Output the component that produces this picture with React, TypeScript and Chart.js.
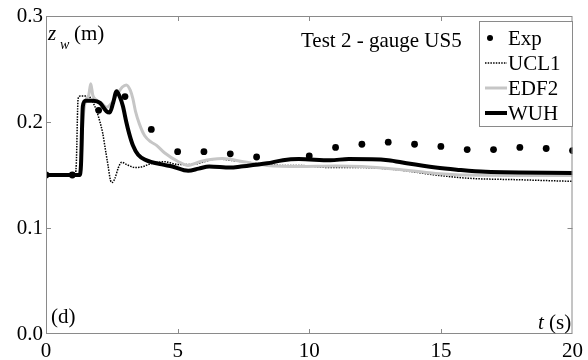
import React, { useEffect, useRef } from "react";
import { Chart, registerables } from "chart.js";

Chart.register(...registerables);

// ---- data ----
const xTickValues = [0, 5, 10, 15, 20];
const yTickValues = [0, 0.1, 0.2, 0.3];

const expT = [0, 1, 2, 3, 4, 5, 6, 7, 8, 10, 11, 12, 13, 14, 15, 16, 17, 18, 19, 20];
const expZ = [0.150, 0.150, 0.211, 0.224, 0.193, 0.172, 0.172, 0.170, 0.167, 0.168, 0.176, 0.179, 0.181, 0.179, 0.177, 0.174, 0.174, 0.176, 0.175, 0.173];

const ucl1T = [0, 1.10, 1.15, 1.22, 1.30, 1.60, 1.75, 1.90, 2.05, 2.15, 2.25, 2.35, 2.45, 2.52, 2.62, 2.75, 2.88, 3.05, 3.40, 3.70, 3.90, 4.50, 5.00, 5.50, 6.50, 7.30, 8.00, 9.00, 9.60, 10.8, 12.0, 13.3, 14.8, 16.0, 18.0, 20.0];
const ucl1Z = [0.150, 0.150, 0.160, 0.222, 0.2245, 0.2245, 0.220, 0.212, 0.200, 0.190, 0.175, 0.160, 0.145, 0.143, 0.147, 0.157, 0.162, 0.160, 0.157, 0.158, 0.160, 0.1625, 0.160, 0.160, 0.165, 0.163, 0.161, 0.159, 0.159, 0.157, 0.157, 0.155, 0.150, 0.147, 0.1455, 0.144];

const edf2T = [0, 1.30, 1.40, 1.50, 1.62, 1.70, 1.78, 1.90, 2.10, 2.30, 2.50, 2.70, 2.90, 3.05, 3.20, 3.30, 3.40, 3.55, 3.75, 4.00, 4.20, 4.50, 5.00, 5.40, 5.90, 6.70, 7.50, 8.40, 9.60, 11.0, 12.0, 13.3, 14.8, 16.0, 20.0];
const edf2Z = [0.150, 0.150, 0.200, 0.220, 0.225, 0.236, 0.225, 0.221, 0.218, 0.214, 0.218, 0.226, 0.233, 0.235, 0.230, 0.222, 0.210, 0.198, 0.187, 0.181, 0.178, 0.171, 0.163, 0.159, 0.163, 0.1655, 0.1625, 0.159, 0.158, 0.1585, 0.158, 0.1555, 0.1515, 0.150, 0.1495];

const wuhT = [0, 1.28, 1.33, 1.40, 1.50, 1.80, 2.05, 2.30, 2.42, 2.55, 2.68, 2.80, 2.92, 3.05, 3.16, 3.30, 3.50, 3.80, 4.40, 4.80, 5.40, 5.80, 6.20, 7.00, 7.40, 8.40, 9.00, 9.60, 10.8, 11.5, 13.0, 13.7, 14.8, 15.6, 16.7, 20.0];
const wuhZ = [0.150, 0.150, 0.160, 0.215, 0.220, 0.220, 0.218, 0.210, 0.209, 0.218, 0.229, 0.224, 0.215, 0.200, 0.189, 0.178, 0.169, 0.164, 0.160, 0.158, 0.154, 0.156, 0.158, 0.157, 0.158, 0.161, 0.164, 0.165, 0.164, 0.165, 0.164, 0.161, 0.157, 0.155, 0.153, 0.152];

const seriesNames = ["Exp", "UCL1", "EDF2", "WUH"];
const titleText = "Test 2 - gauge US5";

// ---- style ----
const FONT = "'Liberation Serif', 'Times New Roman', serif";
const FRAME = "#8a8a8a";
const GRAY = "#c6c6c6";

const pts = (t: number[], z: number[]) => t.map((v, i) => ({ x: v, y: z[i] }));

const decor = {
  id: "decor",
  afterDraw(chart: any) {
    const { ctx, chartArea: a, scales } = chart;
    const x = scales.x;
    const y = scales.y;
    ctx.save();
    // frame
    ctx.strokeStyle = FRAME;
    ctx.lineWidth = 1;
    ctx.strokeRect(a.left + 0.5, a.top + 0.5, a.right - a.left - 1, a.bottom - a.top - 1);
    const seg = (x1: number, y1: number, x2: number, y2: number) => {
      ctx.beginPath();
      ctx.moveTo(x1, y1);
      ctx.lineTo(x2, y2);
      ctx.stroke();
    };
    // inward ticks
    xTickValues.slice(1, -1).forEach((v) => {
      const px = Math.round(x.getPixelForValue(v)) + 0.5;
      seg(px, a.bottom, px, a.bottom - 5);
      seg(px, a.top, px, a.top + 5);
    });
    yTickValues.slice(1, -1).forEach((v) => {
      const py = Math.round(y.getPixelForValue(v)) + 0.5;
      seg(a.left, py, a.left + 5, py);
      seg(a.right, py, a.right - 5, py);
    });

    // texts
    ctx.fillStyle = "#000";
    ctx.textBaseline = "middle";
    ctx.textAlign = "left";
    ctx.font = `21px ${FONT}`;
    ctx.fillText(titleText, 301, 41);
    ctx.font = `italic 21px ${FONT}`;
    ctx.fillText("z", 48, 34);
    ctx.font = `italic 14px ${FONT}`;
    ctx.fillText("w", 60, 45);
    ctx.font = `21px ${FONT}`;
    ctx.fillText("(m)", 74, 34);
    ctx.fillText("(d)", 51, 317);
    ctx.font = `italic 21px ${FONT}`;
    ctx.fillText("t", 538, 323);
    ctx.font = `21px ${FONT}`;
    ctx.fillText("(s)", 549, 323);

    // legend
    const lx = 479, ly = 21, lw = 93, lh = 105;
    ctx.fillStyle = "#fff";
    ctx.fillRect(lx, ly, lw, lh);
    ctx.strokeStyle = FRAME;
    ctx.lineWidth = 1;
    ctx.strokeRect(lx + 0.5, ly + 0.5, lw, lh);
    const rows = [38, 63, 88, 113];
    // Exp dot
    ctx.fillStyle = "#000";
    ctx.beginPath();
    ctx.arc(490, rows[0], 3, 0, Math.PI * 2);
    ctx.fill();
    // UCL1
    ctx.strokeStyle = "#000";
    ctx.lineWidth = 1.5;
    ctx.setLineDash([1.5, 1.2]);
    seg(485, rows[1], 507, rows[1]);
    ctx.setLineDash([]);
    // EDF2
    ctx.strokeStyle = GRAY;
    ctx.lineWidth = 3;
    seg(485, rows[2], 507, rows[2]);
    // WUH
    ctx.strokeStyle = "#000";
    ctx.lineWidth = 4;
    seg(485, rows[3], 507, rows[3]);
    ctx.fillStyle = "#000";
    ctx.font = `21px ${FONT}`;
    seriesNames.forEach((n, i) => ctx.fillText(n, 508, rows[i] + 1));
    ctx.restore();
  },
};

export default function App() {
  const ref = useRef<HTMLCanvasElement | null>(null);
  useEffect(() => {
    if (!ref.current) return;
    const chart = new Chart(ref.current, {
      type: "line",
      data: {
        datasets: [
          {
            label: seriesNames[0],
            data: pts(expT, expZ),
            showLine: false,
            pointRadius: 3.4,
            pointBackgroundColor: "#000",
            pointBorderWidth: 0,
            borderColor: "#000",
            order: 0,
          },
          {
            label: seriesNames[3],
            data: pts(wuhT, wuhZ),
            borderColor: "#000",
            borderWidth: 4,
            pointRadius: 0,
            cubicInterpolationMode: "monotone",
            order: 1,
          },
          {
            label: seriesNames[2],
            data: pts(edf2T, edf2Z),
            borderColor: GRAY,
            borderWidth: 3,
            pointRadius: 0,
            cubicInterpolationMode: "monotone",
            order: 2,
          },
          {
            label: seriesNames[1],
            data: pts(ucl1T, ucl1Z),
            borderColor: "#000",
            borderWidth: 1.5,
            borderDash: [1.5, 1.2],
            pointRadius: 0,
            cubicInterpolationMode: "monotone",
            order: 3,
          },
        ],
      },
      options: {
        animation: false,
        responsive: false,
        devicePixelRatio: 1,
        layout: { padding: { top: 16, right: 11, left: 0, bottom: 0 } },
        plugins: { legend: { display: false }, tooltip: { enabled: false } },
        scales: {
          x: {
            type: "linear",
            min: 0,
            max: 20,
            grid: { display: false, drawTicks: false },
            border: { display: false },
            afterFit: (s: any) => {
              s.height = 26;
            },
            afterBuildTicks: (s: any) => {
              s.ticks = xTickValues.map((v) => ({ value: v }));
            },
            ticks: {
              padding: 5,
              maxRotation: 0,
              autoSkip: false,
              color: "#000",
              font: { family: FONT, size: 21 },
              callback: (v: any) => String(v),
            },
          },
          y: {
            min: 0,
            max: 0.3,
            grid: { display: false, drawTicks: false },
            border: { display: false },
            afterFit: (s: any) => {
              s.width = 46;
            },
            afterBuildTicks: (s: any) => {
              s.ticks = yTickValues.map((v) => ({ value: v }));
            },
            ticks: {
              padding: 3,
              autoSkip: false,
              color: "#000",
              font: { family: FONT, size: 21 },
              callback: (v: any) => Number(v).toFixed(1),
            },
          },
        },
      },
      plugins: [decor],
    } as any);
    return () => chart.destroy();
  }, []);
  return (
    <div style={{ position: "fixed", left: 0, top: 0, width: 588, height: 360, background: "#fff" }}>
      <canvas ref={ref} width={588} height={360} />
    </div>
  );
}
